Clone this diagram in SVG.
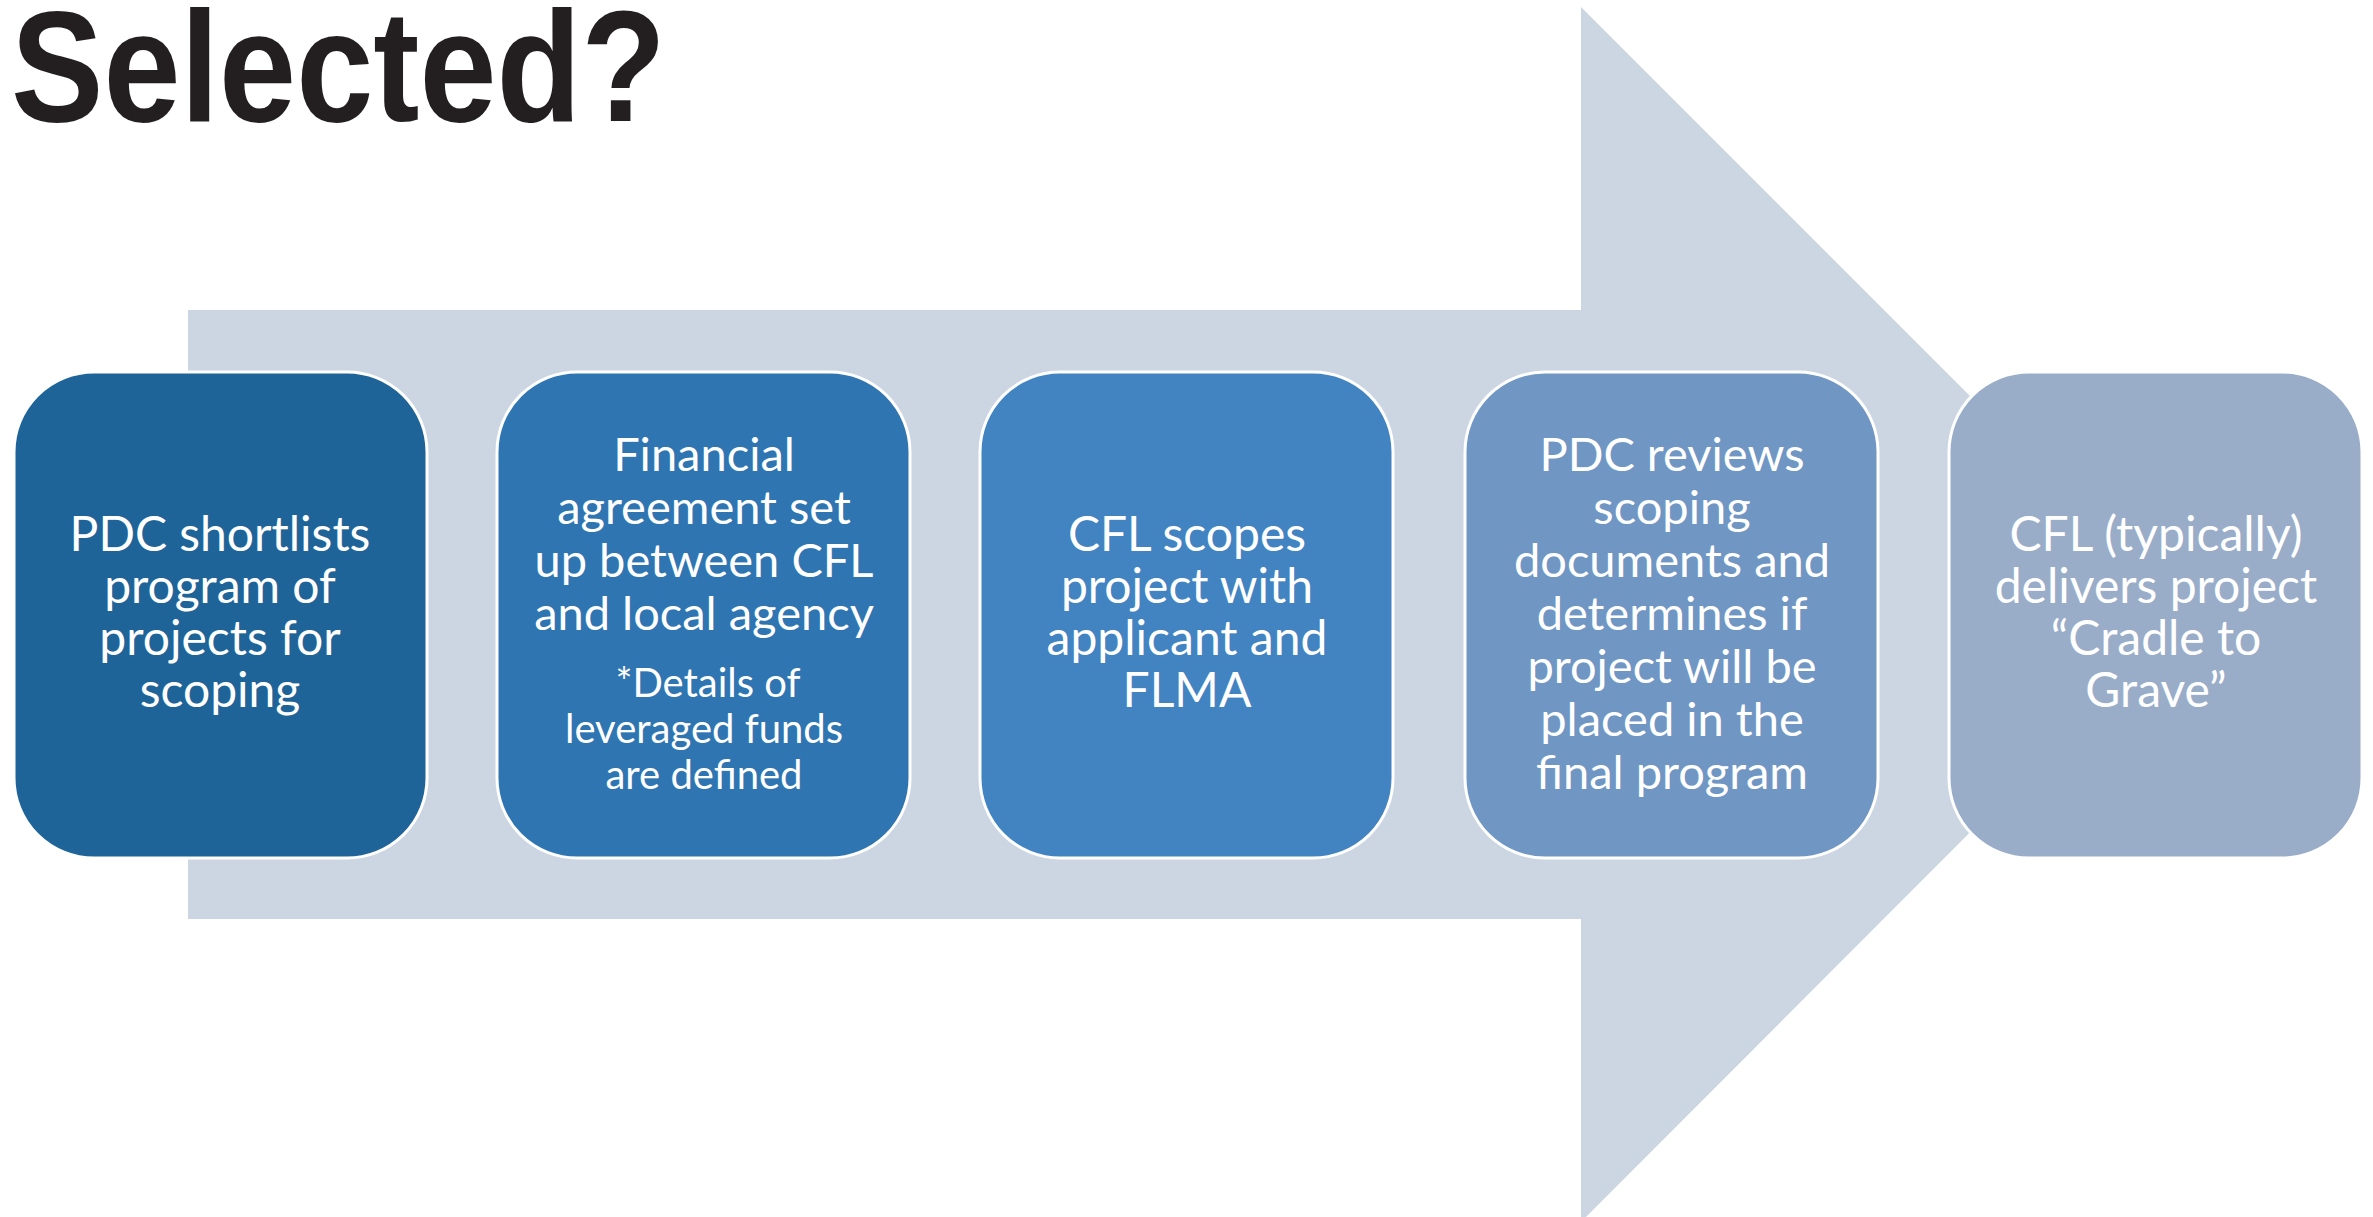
<svg xmlns="http://www.w3.org/2000/svg" width="2373" height="1217" viewBox="0 0 2373 1217">
<style>
.box{stroke:#ffffff;stroke-width:3}
.t{font-family:Lato,"Liberation Sans",sans-serif;fill:#ffffff;text-anchor:middle}
.l{font-size:48px}
.m{font-size:47px}
.s{font-size:40px}
.title{font-family:"Liberation Sans Narrow","Liberation Sans",Arial,sans-serif;font-weight:bold;font-size:157px;fill:#231F20}
</style>
<rect width="2373" height="1217" fill="#ffffff"/>
<g id="connectors">
<polygon points="188,310 1581,310 1581,7 2188,614 1581,1222 1581,919 188,919" fill="#CCD6E2"/>
</g>
<text class="title" x="11" y="121" textLength="655" lengthAdjust="spacingAndGlyphs">Selected?</text>
<g id="node1">
<rect class="box" x="14" y="372" width="413" height="486" rx="80" ry="80" fill="#1F6499"/>
<text class="t l" x="220" y="551">PDC shortlists</text>
<text class="t l" x="220" y="603">program of</text>
<text class="t l" x="220" y="655">projects for</text>
<text class="t l" x="220" y="707">scoping</text>
</g>
<g id="node2">
<rect class="box" x="497" y="372" width="413" height="486" rx="80" ry="80" fill="#2E75B2"/>
<text class="t m" x="704" y="471">Financial</text>
<text class="t m" x="704" y="524">agreement set</text>
<text class="t m" x="704" y="577">up between CFL</text>
<text class="t m" x="704" y="630">and local agency</text>
<text class="t s" x="708" y="697">*Details of</text>
<text class="t s" x="704" y="743">leveraged funds</text>
<text class="t s" x="704" y="789">are defined</text>
</g>
<g id="node3">
<rect class="box" x="980" y="372" width="413" height="486" rx="80" ry="80" fill="#4283C1"/>
<text class="t l" x="1187" y="551">CFL scopes</text>
<text class="t l" x="1187" y="603">project with</text>
<text class="t l" x="1187" y="655">applicant and</text>
<text class="t l" x="1187" y="707">FLMA</text>
</g>
<g id="node4">
<rect class="box" x="1465" y="372" width="413" height="486" rx="80" ry="80" fill="#7096C3"/>
<text class="t m" x="1672" y="471">PDC reviews</text>
<text class="t m" x="1672" y="524">scoping</text>
<text class="t m" x="1672" y="577">documents and</text>
<text class="t m" x="1672" y="630">determines if</text>
<text class="t m" x="1672" y="683">project will be</text>
<text class="t m" x="1672" y="736">placed in the</text>
<text class="t m" x="1672" y="789">final program</text>
</g>
<g id="node5">
<rect class="box" x="1949" y="372" width="413" height="486" rx="80" ry="80" fill="#99ADC9"/>
<text class="t l" x="2156" y="551">CFL (typically)</text>
<text class="t l" x="2156" y="603">delivers project</text>
<text class="t l" x="2156" y="655">“Cradle to</text>
<text class="t l" x="2156" y="707">Grave”</text>
</g>
</svg>
